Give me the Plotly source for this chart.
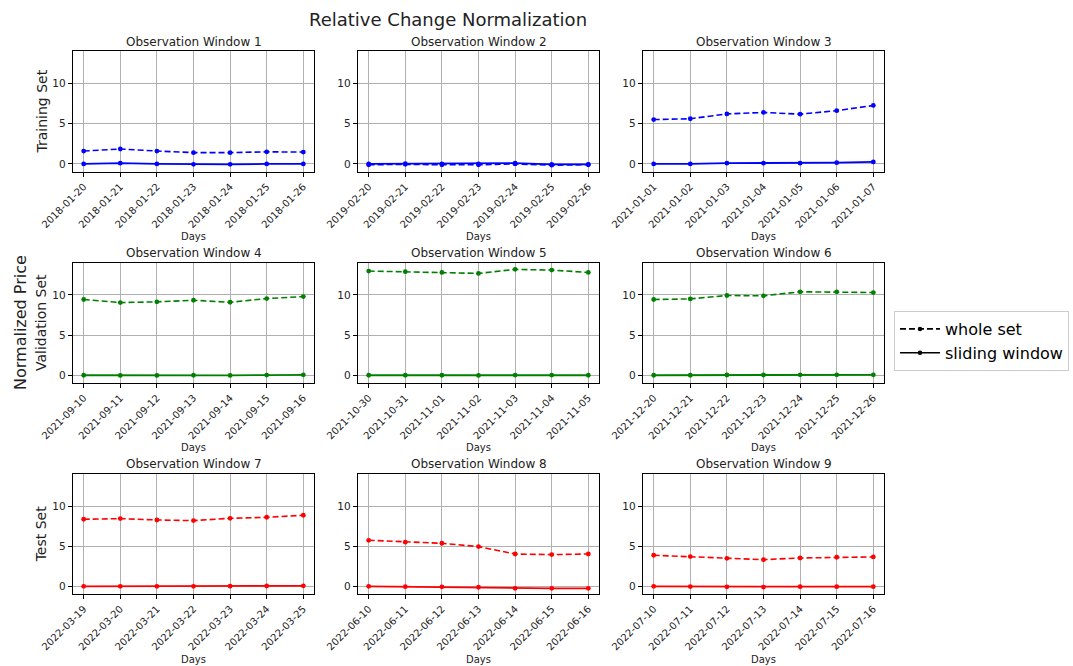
import plotly.graph_objects as go
from plotly.subplots import make_subplots

# ---------------- data ----------------
dates_1 = ["2018-01-20", "2018-01-21", "2018-01-22", "2018-01-23", "2018-01-24", "2018-01-25", "2018-01-26"]
dates_2 = ["2019-02-20", "2019-02-21", "2019-02-22", "2019-02-23", "2019-02-24", "2019-02-25", "2019-02-26"]
dates_3 = ["2021-01-01", "2021-01-02", "2021-01-03", "2021-01-04", "2021-01-05", "2021-01-06", "2021-01-07"]
dates_4 = ["2021-09-10", "2021-09-11", "2021-09-12", "2021-09-13", "2021-09-14", "2021-09-15", "2021-09-16"]
dates_5 = ["2021-10-30", "2021-10-31", "2021-11-01", "2021-11-02", "2021-11-03", "2021-11-04", "2021-11-05"]
dates_6 = ["2021-12-20", "2021-12-21", "2021-12-22", "2021-12-23", "2021-12-24", "2021-12-25", "2021-12-26"]
dates_7 = ["2022-03-19", "2022-03-20", "2022-03-21", "2022-03-22", "2022-03-23", "2022-03-24", "2022-03-25"]
dates_8 = ["2022-06-10", "2022-06-11", "2022-06-12", "2022-06-13", "2022-06-14", "2022-06-15", "2022-06-16"]
dates_9 = ["2022-07-10", "2022-07-11", "2022-07-12", "2022-07-13", "2022-07-14", "2022-07-15", "2022-07-16"]

whole_1 = [1.6, 1.85, 1.6, 1.4, 1.4, 1.5, 1.47]
slide_1 = [0.0, 0.1, 0.0, -0.05, -0.05, 0.0, 0.0]
whole_2 = [-0.1, -0.05, -0.1, -0.1, 0.0, -0.15, -0.1]
slide_2 = [0.0, 0.02, 0.0, 0.0, 0.1, -0.05, -0.05]
whole_3 = [5.5, 5.6, 6.2, 6.38, 6.17, 6.6, 7.25]
slide_3 = [0.0, 0.0, 0.1, 0.1, 0.1, 0.15, 0.25]
whole_4 = [9.42, 9.04, 9.13, 9.33, 9.08, 9.54, 9.79]
slide_4 = [0.0, -0.02, -0.02, 0.0, -0.02, 0.02, 0.05]
whole_5 = [12.96, 12.88, 12.79, 12.67, 13.17, 13.08, 12.79]
slide_5 = [0.0, 0.0, 0.0, -0.02, 0.02, 0.02, 0.0]
whole_6 = [9.42, 9.5, 9.92, 9.88, 10.38, 10.38, 10.29]
slide_6 = [0.0, 0.0, 0.03, 0.03, 0.06, 0.06, 0.06]
whole_7 = [8.38, 8.46, 8.29, 8.21, 8.5, 8.63, 8.88]
slide_7 = [0.0, 0.0, 0.0, 0.0, 0.02, 0.04, 0.06]
whole_8 = [5.75, 5.52, 5.38, 4.96, 4.04, 3.96, 4.04]
slide_8 = [0.0, -0.05, -0.07, -0.12, -0.25, -0.25, -0.25]
whole_9 = [3.88, 3.71, 3.5, 3.33, 3.54, 3.63, 3.67]
slide_9 = [0.0, -0.03, -0.07, -0.1, -0.05, -0.05, -0.05]

dates = [dates_1, dates_2, dates_3, dates_4, dates_5, dates_6, dates_7, dates_8, dates_9]
whole = [whole_1, whole_2, whole_3, whole_4, whole_5, whole_6, whole_7, whole_8, whole_9]
slide = [slide_1, slide_2, slide_3, slide_4, slide_5, slide_6, slide_7, slide_8, slide_9]
titles = [f"Observation Window {i}" for i in range(1, 10)]
row_labels = ["Training Set", "Validation Set", "Test Set"]
row_colors = ["#0000ff", "#008000", "#ff0000"]
legend_names = ["whole set", "sliding window"]

# ---------------- layout geometry (pixels) ----------------
W, H = 1073, 666
col_left = [72.7, 357.7, 642.7]
col_w = 241.6
row_top = [51.0, 262.7, 474.3]
row_bot = [172.0, 383.3, 594.3]
title_y = [41.7, 252.7, 464.0]
days_y = [236.5, 447.5, 659.0]
FONT = "DejaVu Sans"
TXT = "#222222"

fig = make_subplots(rows=3, cols=3)

for k in range(9):
    r, c = divmod(k, 3)
    color = row_colors[r]
    fig.add_trace(go.Scatter(
        x=dates[k], y=whole[k], mode="lines+markers",
        line=dict(color=color, width=1.6, dash="6px,3px"),
        marker=dict(color=color, size=4.8), showlegend=False),
        row=r + 1, col=c + 1)
    fig.add_trace(go.Scatter(
        x=dates[k], y=slide[k], mode="lines+markers",
        line=dict(color=color, width=1.8),
        marker=dict(color=color, size=4.8), showlegend=False),
        row=r + 1, col=c + 1)

# legend entries (black)
fig.add_trace(go.Scatter(x=[None], y=[None], mode="lines+markers", name=legend_names[0],
                         line=dict(color="black", width=1.6, dash="6px,3px"),
                         marker=dict(color="black", size=4.5)), row=1, col=1)
fig.add_trace(go.Scatter(x=[None], y=[None], mode="lines+markers", name=legend_names[1],
                         line=dict(color="black", width=1.6),
                         marker=dict(color="black", size=4.5)), row=1, col=1)

annotations = []
for k in range(9):
    r, c = divmod(k, 3)
    ax = "" if k == 0 else str(k + 1)
    x0 = col_left[c] / W
    x1 = (col_left[c] + col_w) / W
    y0 = 1 - row_bot[r] / H
    y1 = 1 - row_top[r] / H
    fig.layout["xaxis" + ax].update(
        domain=[x0, x1], type="category", range=[-0.3, 6.3],
        tickmode="array", tickvals=dates[k], ticktext=dates[k],
        tickangle=-45, tickfont=dict(family=FONT, size=10, color=TXT),
        showgrid=True, gridcolor="#b0b0b0", gridwidth=1,
        showline=True, linecolor="black", linewidth=1, mirror=True,
        ticks="outside", ticklen=4, tickcolor="black", zeroline=False,
        automargin=False)
    fig.layout["yaxis" + ax].update(
        domain=[y0, y1], range=[-1.0, 14.0],
        tickmode="array", tickvals=[0, 5, 10], ticktext=["0", "5", "10"],
        tickfont=dict(family=FONT, size=10.5, color=TXT),
        showgrid=True, gridcolor="#b0b0b0", gridwidth=1,
        showline=True, linecolor="black", linewidth=1, mirror=True,
        ticks="outside", ticklen=4, tickcolor="black", zeroline=False,
        automargin=False)
    annotations.append(dict(text=titles[k], x=(x0 + x1) / 2, y=1 - title_y[r] / H,
                            xref="paper", yref="paper", xanchor="center", yanchor="middle",
                            showarrow=False, font=dict(family=FONT, size=12, color=TXT)))
    annotations.append(dict(text="Days", x=(x0 + x1) / 2, y=1 - days_y[r] / H,
                            xref="paper", yref="paper", xanchor="center", yanchor="middle",
                            showarrow=False, font=dict(family=FONT, size=10, color=TXT)))

for r in range(3):
    annotations.append(dict(text=row_labels[r], x=41 / W,
                            y=1 - (row_top[r] + row_bot[r]) / 2 / H,
                            xref="paper", yref="paper", xanchor="center", yanchor="middle",
                            textangle=-90, showarrow=False,
                            font=dict(family=FONT, size=14, color=TXT)))

annotations.append(dict(text="Normalized Price", x=20 / W, y=1 - 323 / H,
                        xref="paper", yref="paper", xanchor="center", yanchor="middle",
                        textangle=-90, showarrow=False,
                        font=dict(family=FONT, size=16, color=TXT)))
annotations.append(dict(text="Relative Change Normalization", x=448 / W, y=1 - 20 / H,
                        xref="paper", yref="paper", xanchor="center", yanchor="middle",
                        showarrow=False, font=dict(family=FONT, size=18, color=TXT)))

fig.update_layout(
    width=W, height=H, template="none",
    margin=dict(l=0, r=0, t=0, b=0),
    paper_bgcolor="white", plot_bgcolor="white",
    annotations=annotations,
    legend=dict(x=894 / W, y=1 - 311 / H, xanchor="left", yanchor="top",
                font=dict(family=FONT, size=16, color="black"),
                bordercolor="#cccccc", borderwidth=1, bgcolor="white",
                itemwidth=40, tracegroupgap=0),
    font=dict(family=FONT, color=TXT),
)

fig.write_html(
    "out.html",
    config={"displayModeBar": False},
    post_script="document.body.style.margin='0';document.body.style.overflow='hidden';"
)
